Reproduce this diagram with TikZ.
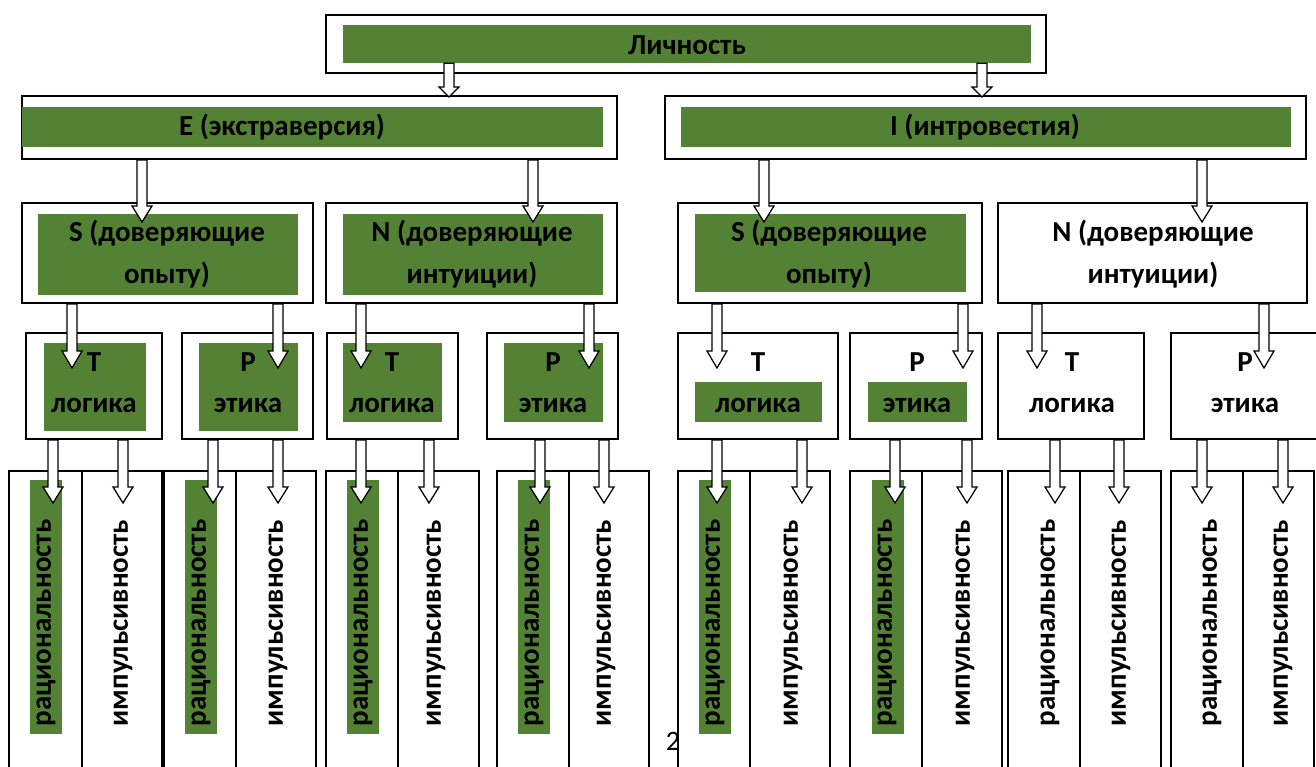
\documentclass[tikz,border=0pt]{standalone}
\usepackage{fontspec}
\setmainfont{Carlito}
\usepackage{xcolor}
\usepackage{tikz}
\usetikzlibrary{calc,fit}
\definecolor{leafgreen}{HTML}{548235}
% hollow block arrow: #2 = parent node, #3 = tip coordinate, #1 = head length
\newcommand{\hollowarrow}[3][16]{%
  \path (#2.south -| #3) coordinate (hs);
  \draw[arrowbody] ($(hs)+(-5,0)$) -- ($(#3)+(-5,-#1)$) -- ($(#3)+(-10,-#1)$) -- (#3)
    -- ($(#3)+(10,-#1)$) -- ($(#3)+(5,-#1)$) -- ($(hs)+(5,0)$) -- cycle;}

\begin{document}
\begin{tikzpicture}[x=0.02cm,y=-0.02cm,
  font=\bfseries\fontsize{16.5}{23.5}\selectfont,
  outer/.style={draw,line width=1.2pt,fill=white,inner sep=0pt},
  greenbox/.style={fill=leafgreen,inner sep=0pt},
  lbl/.style={inner sep=0pt,align=center},
  vlbl/.style={inner sep=0pt,rotate=90},
  arrowbody/.style={draw,fill=white,line width=0.7pt,line join=miter}]
  \useasboundingbox[fill=white] (0,0) rectangle (1316,767);

  % page number behind the columns
  \node[inner sep=0pt,font=\mdseries\fontsize{16}{18}\selectfont] (pgno) at (673,741) {2};

  % level 1
  \node[outer,fit={(326,15)(1046,73)}] (lich) {};
  \node[greenbox,fit={(343,25)(1031,63)}] (lichG) {};
  \node[lbl] (lichT) at (687,45) {Личность};

  % level 2
  \node[outer,fit={(22,96)(617,159)}] (ext) {};
  \node[greenbox,fit={(22,107)(603,147)}] (extG) {};
  \node[lbl] (extT) at (282,127) {E (экстраверсия)};
  \node[outer,fit={(665,96)(1306,159)}] (intr) {};
  \node[greenbox,fit={(681,107)(1291,147)}] (intrG) {};
  \node[lbl] (intrT) at (985,127) {I (интровестия)};

  % level 3
  \node[outer,fit={(22,203)(313,303)}] (sA) {};
  \node[greenbox,fit={(38,214)(298,295)}] (sAG) {};
  \node[lbl] (sAT) at (167,254) {S (доверяющие\\опыту)};
  \node[outer,fit={(326,203)(617,303)}] (nA) {};
  \node[greenbox,fit={(343,214)(603,295)}] (nAG) {};
  \node[lbl] (nAT) at (472,254) {N (доверяющие\\интуиции)};
  \node[outer,fit={(678,203)(982,303)}] (sB) {};
  \node[greenbox,fit={(695,214)(966,292)}] (sBG) {};
  \node[lbl] (sBT) at (829,254) {S (доверяющие\\опыту)};
  \node[outer,fit={(998,203)(1307,303)}] (nB) {};
  \node[lbl] (nBT) at (1153,254) {N (доверяющие\\интуиции)};

  % level 4
  \node[outer,fit={(26,333)(162,439)}] (tA) {};
  \node[greenbox,fit={(44,343)(146,431)}] (tAG) {};
  \node[lbl] (tAT) at (94,383) {T\\логика};
  \node[outer,fit={(182,333)(313,439)}] (pA) {};
  \node[greenbox,fit={(199,343)(298,431)}] (pAG) {};
  \node[lbl] (pAT) at (248,383) {P\\этика};
  \node[outer,fit={(327,333)(458,439)}] (tB) {};
  \node[greenbox,fit={(343,343)(442,422)}] (tBG) {};
  \node[lbl] (tBT) at (392,383) {T\\логика};
  \node[outer,fit={(487,333)(618,439)}] (pB) {};
  \node[greenbox,fit={(504,343)(603,422)}] (pBG) {};
  \node[lbl] (pBT) at (553,383) {P\\этика};
  \node[outer,fit={(678,333)(838,439)}] (tC) {};
  \node[greenbox,fit={(695,382)(822,422)}] (tCG) {};
  \node[lbl] (tCT) at (758,383) {T\\логика};
  \node[outer,fit={(850,333)(982,439)}] (pC) {};
  \node[greenbox,fit={(868,382)(967,422)}] (pCG) {};
  \node[lbl] (pCT) at (917,383) {P\\этика};
  \node[outer,fit={(998,333)(1144,439)}] (tD) {};
  \node[lbl] (tDT) at (1072,383) {T\\логика};
  \node[outer,fit={(1171,333)(1320,439)}] (pD) {};
  \node[lbl] (pDT) at (1245,383) {P\\этика};

  % level 5: columns
  \node[outer,fit={(9,471)(82,780)}] (rat1) {};
  \node[outer,fit={(82,471)(162,780)}] (imp1) {};
  \node[outer,fit={(164,471)(236,780)}] (rat2) {};
  \node[outer,fit={(236,471)(316,780)}] (imp2) {};
  \node[outer,fit={(326,471)(398,780)}] (rat3) {};
  \node[outer,fit={(398,471)(479,780)}] (imp3) {};
  \node[outer,fit={(497,471)(569,780)}] (rat4) {};
  \node[outer,fit={(569,471)(649,780)}] (imp4) {};
  \node[outer,fit={(678,471)(750,780)}] (rat5) {};
  \node[outer,fit={(750,471)(830,780)}] (imp5) {};
  \node[outer,fit={(850,471)(922,780)}] (rat6) {};
  \node[outer,fit={(922,471)(1002,780)}] (imp6) {};
  \node[outer,fit={(1008,471)(1080,780)}] (rat7) {};
  \node[outer,fit={(1080,471)(1161,780)}] (imp7) {};
  \node[outer,fit={(1171,471)(1243,780)}] (rat8) {};
  \node[outer,fit={(1243,471)(1314,780)}] (imp8) {};
  \node[greenbox,fit={(30,480)(62,734)}] (ratG1) {};
  \node[greenbox,fit={(185,480)(217,734)}] (ratG2) {};
  \node[greenbox,fit={(347,480)(379,734)}] (ratG3) {};
  \node[greenbox,fit={(518,480)(550,734)}] (ratG4) {};
  \node[greenbox,fit={(699,480)(731,734)}] (ratG5) {};
  \node[greenbox,fit={(872,480)(904,734)}] (ratG6) {};
  \node[vlbl] (rat1T) at (46,623) {рациональность};
  \node[vlbl] (imp1T) at (123,623) {импульсивность};
  \node[vlbl] (rat2T) at (201,623) {рациональность};
  \node[vlbl] (imp2T) at (278,623) {импульсивность};
  \node[vlbl] (rat3T) at (363,623) {рациональность};
  \node[vlbl] (imp3T) at (436,623) {импульсивность};
  \node[vlbl] (rat4T) at (534,623) {рациональность};
  \node[vlbl] (imp4T) at (606,623) {импульсивность};
  \node[vlbl] (rat5T) at (715,623) {рациональность};
  \node[vlbl] (imp5T) at (793,623) {импульсивность};
  \node[vlbl] (rat6T) at (887,623) {рациональность};
  \node[vlbl] (imp6T) at (965,623) {импульсивность};
  \node[vlbl] (rat7T) at (1050,623) {рациональность};
  \node[vlbl] (imp7T) at (1121,623) {импульсивность};
  \node[vlbl] (rat8T) at (1212,623) {рациональность};
  \node[vlbl] (imp8T) at (1283,623) {импульсивность};

  % arrow tips
  \coordinate (toE) at (449,97);
  \coordinate (toI) at (982,97);
  \coordinate (toSA) at (142,222);
  \coordinate (toNA) at (533,222);
  \coordinate (toSB) at (764,222);
  \coordinate (toNB) at (1202,222);
  \coordinate (toTA) at (72,368);
  \coordinate (toPA) at (278,368);
  \coordinate (toTB) at (361,368);
  \coordinate (toPB) at (589,368);
  \coordinate (toTC) at (717,368);
  \coordinate (toPC) at (963,368);
  \coordinate (toTD) at (1037,368);
  \coordinate (toPD) at (1264,368);
  \coordinate (toR1) at (53,503);
  \coordinate (toI1) at (123,503);
  \coordinate (toR2) at (213,503);
  \coordinate (toI2) at (278,503);
  \coordinate (toR3) at (361,503);
  \coordinate (toI3) at (429,503);
  \coordinate (toR4) at (540,503);
  \coordinate (toI4) at (604,503);
  \coordinate (toR5) at (717,503);
  \coordinate (toI5) at (802,503);
  \coordinate (toR6) at (895,503);
  \coordinate (toI6) at (967,503);
  \coordinate (toR7) at (1055,503);
  \coordinate (toI7) at (1119,503);
  \coordinate (toR8) at (1202,503);
  \coordinate (toI8) at (1283,503);

  % arrows
  \hollowarrow[10]{lichG}{toE}
  \hollowarrow[10]{lichG}{toI}
  \hollowarrow{ext}{toSA}
  \hollowarrow{ext}{toNA}
  \hollowarrow{intr}{toSB}
  \hollowarrow{intr}{toNB}
  \hollowarrow[17]{sA}{toTA}
  \hollowarrow[17]{sA}{toPA}
  \hollowarrow[17]{nA}{toTB}
  \hollowarrow[17]{nA}{toPB}
  \hollowarrow[17]{sB}{toTC}
  \hollowarrow[17]{sB}{toPC}
  \hollowarrow[17]{nB}{toTD}
  \hollowarrow[17]{nB}{toPD}
  \hollowarrow{tA}{toR1}
  \hollowarrow{tA}{toI1}
  \hollowarrow{pA}{toR2}
  \hollowarrow{pA}{toI2}
  \hollowarrow{tB}{toR3}
  \hollowarrow{tB}{toI3}
  \hollowarrow{pB}{toR4}
  \hollowarrow{pB}{toI4}
  \hollowarrow{tC}{toR5}
  \hollowarrow{tC}{toI5}
  \hollowarrow{pC}{toR6}
  \hollowarrow{pC}{toI6}
  \hollowarrow{tD}{toR7}
  \hollowarrow{tD}{toI7}
  \hollowarrow{pD}{toR8}
  \hollowarrow{pD}{toI8}
\end{tikzpicture}
\end{document}
